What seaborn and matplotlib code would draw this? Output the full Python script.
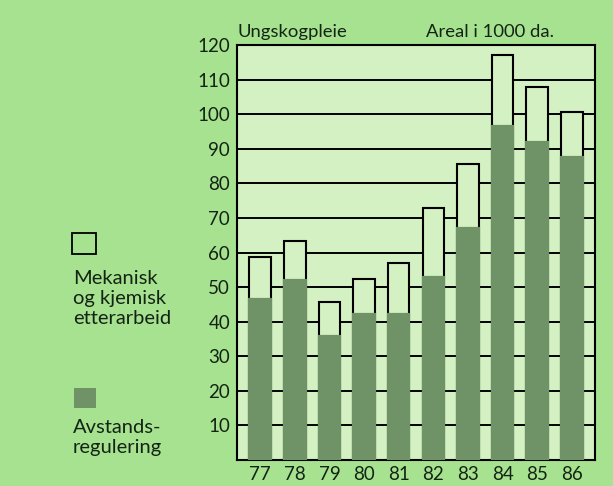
import matplotlib
matplotlib.use("Agg")
import matplotlib.pyplot as plt
import seaborn as sns
import pandas as pd
from matplotlib.patches import Rectangle

years = ["77", "78", "79", "80", "81", "82", "83", "84", "85", "86"]
avstandsregulering = [46.5, 52.0, 35.8, 42.3, 42.3, 53.0, 67.0, 96.5, 92.0, 87.6]
mekanisk_kjemisk = [12.2, 11.2, 10.0, 10.1, 14.7, 19.9, 18.7, 20.5, 16.0, 12.9]
y_ticks = [10, 20, 30, 40, 50, 60, 70, 80, 90, 100, 110, 120]

totals = [a + m for a, m in zip(avstandsregulering, mekanisk_kjemisk)]
df = pd.DataFrame({"year": years, "avstand": avstandsregulering, "total": totals})

OUTER = "#a7e290"
INNER = "#d3f1c2"
DARK = "#6f9267"
INK = "#142414"

sns.set_theme(style="white")
plt.rcParams["font.family"] = ["Lato", "DejaVu Sans"]

fig = plt.figure(figsize=(6.13, 4.86), dpi=100, facecolor=OUTER)
ax = fig.add_axes([0.3866, 0.0535, 0.5840, 0.8539])
ax.set_facecolor(INNER)

sns.barplot(data=df, x="year", y="total", color=INNER, width=0.62,
            edgecolor="black", linewidth=1.5, saturation=1, ax=ax, zorder=3)
sns.barplot(data=df, x="year", y="avstand", color=DARK, width=0.62,
            edgecolor=DARK, linewidth=1.6, saturation=1, ax=ax, zorder=4)

ax.set_ylim(0, 120)
ax.set_xlim(-0.67, 9.67)
ax.set_yticks(y_ticks)
ax.yaxis.grid(True, color="black", linewidth=1.4, zorder=1)
ax.set_axisbelow(True)
ax.tick_params(axis="both", length=0, labelsize=13.5, labelcolor=INK)
ax.tick_params(axis="y", pad=5)
ax.tick_params(axis="x", pad=4)
ax.set_xlabel("")
ax.set_ylabel("")
for s in ax.spines.values():
    s.set_color("black")
    s.set_linewidth(1.5)
    s.set_visible(True)

fig.text(237 / 613, 1 - 40 / 486, "Ungskogpleie", fontsize=13.3, color=INK, ha="left", va="bottom")
fig.text(554 / 613, 1 - 40 / 486, "Areal i 1000 da.", fontsize=13.3, color=INK, ha="right", va="bottom")

# legend
fig.patches.append(Rectangle((72 / 613, 1 - 254 / 486), 24 / 613, 21 / 486,
                             transform=fig.transFigure, facecolor="none",
                             edgecolor="black", linewidth=1.3))
fig.text(73 / 613, 1 - 270 / 486, "Mekanisk\nog kjemisk\netterarbeid", fontsize=14.5,
         color=INK, ha="left", va="top", linespacing=1.22)
fig.patches.append(Rectangle((74 / 613, 1 - 408 / 486), 22 / 613, 20 / 486,
                             transform=fig.transFigure, facecolor=DARK,
                             edgecolor="none"))
fig.text(73 / 613, 1 - 419 / 486, "Avstands-\nregulering", fontsize=14.5,
         color=INK, ha="left", va="top", linespacing=1.22)

fig.savefig("out.png", dpi=100, facecolor=OUTER)
